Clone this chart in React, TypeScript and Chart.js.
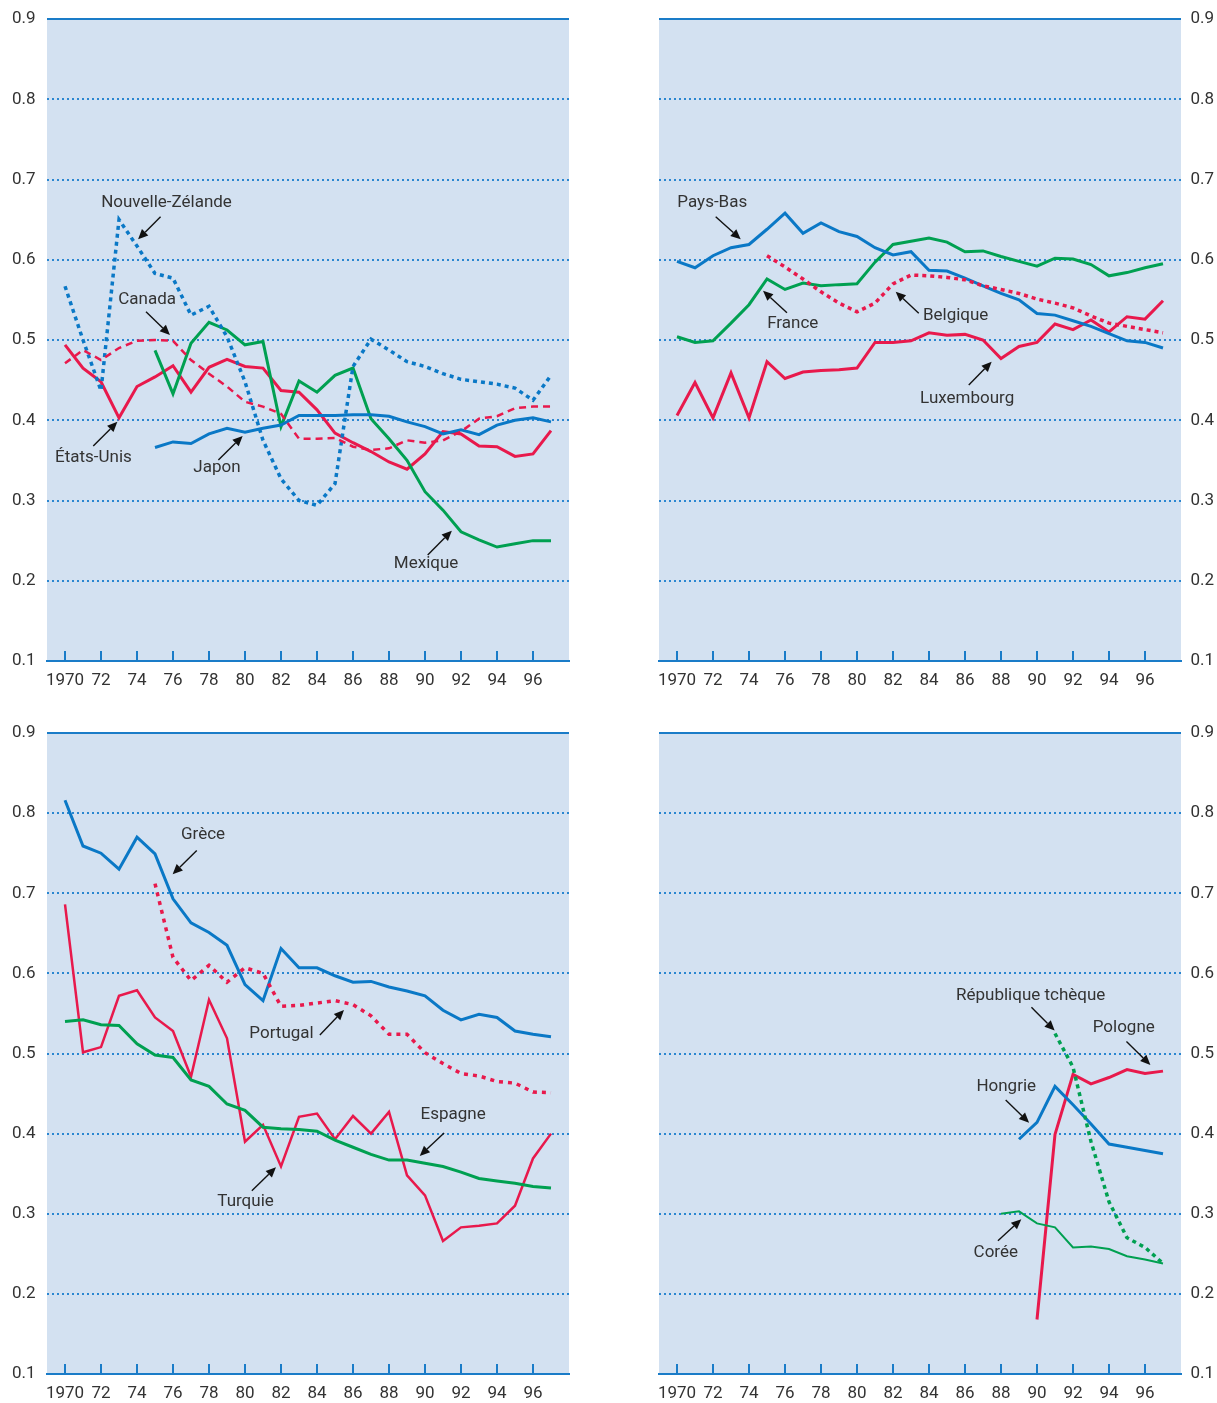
import React, { useEffect, useRef } from "react";
import { Chart, registerables } from "chart.js";

Chart.register(...registerables);
Chart.defaults.font.family = "Roboto, 'Open Sans', sans-serif";

// ---------- categories / ticks ----------
const xTickYears = [1970, 1972, 1974, 1976, 1978, 1980, 1982, 1984, 1986, 1988, 1990, 1992, 1994, 1996];
const yTickValues = [0.1, 0.2, 0.3, 0.4, 0.5, 0.6, 0.7, 0.8, 0.9];

const years1970 = [1970, 1971, 1972, 1973, 1974, 1975, 1976, 1977, 1978, 1979, 1980, 1981, 1982, 1983, 1984, 1985, 1986, 1987, 1988, 1989, 1990, 1991, 1992, 1993, 1994, 1995, 1996, 1997];
const years1975 = [1975, 1976, 1977, 1978, 1979, 1980, 1981, 1982, 1983, 1984, 1985, 1986, 1987, 1988, 1989, 1990, 1991, 1992, 1993, 1994, 1995, 1996, 1997];
const years1988 = [1988, 1989, 1990, 1991, 1992, 1993, 1994, 1995, 1996, 1997];
const years1989 = [1989, 1990, 1991, 1992, 1993, 1994, 1995, 1996, 1997];
const years1990 = [1990, 1991, 1992, 1993, 1994, 1995, 1996, 1997];
const years1991 = [1991, 1992, 1993, 1994, 1995, 1996, 1997];

// ---------- series values ----------
// Panel 1
const etatsUnis = [0.494, 0.465, 0.448, 0.403, 0.442, 0.454, 0.468, 0.435, 0.466, 0.476, 0.467, 0.465, 0.437, 0.435, 0.413, 0.384, 0.372, 0.361, 0.348, 0.339, 0.358, 0.386, 0.383, 0.368, 0.367, 0.355, 0.358, 0.387];
const canada = [0.471, 0.4875, 0.475, 0.49, 0.499, 0.5, 0.499, 0.475, 0.458, 0.442, 0.423, 0.417, 0.408, 0.377, 0.377, 0.378, 0.367, 0.363, 0.365, 0.375, 0.372, 0.375, 0.386, 0.402, 0.405, 0.415, 0.417, 0.417];
const nouvelleZelande = [0.567, 0.5, 0.437, 0.65, 0.617, 0.583, 0.577, 0.531, 0.542, 0.504, 0.448, 0.375, 0.327, 0.3, 0.294, 0.321, 0.467, 0.501, 0.4875, 0.473, 0.467, 0.458, 0.451, 0.448, 0.445, 0.44, 0.425, 0.456];
const japon = [0.366, 0.373, 0.371, 0.383, 0.39, 0.385, 0.39, 0.394, 0.406, 0.406, 0.406, 0.407, 0.407, 0.405, 0.398, 0.392, 0.383, 0.388, 0.382, 0.394, 0.4, 0.403, 0.398];
const mexique = [0.487, 0.433, 0.496, 0.522, 0.5125, 0.494, 0.498, 0.392, 0.449, 0.435, 0.456, 0.465, 0.402, 0.377, 0.35, 0.311, 0.288, 0.261, 0.251, 0.242, 0.246, 0.25, 0.25];
// Panel 2
const paysBas = [0.598, 0.59, 0.605, 0.615, 0.619, 0.638, 0.658, 0.633, 0.646, 0.635, 0.629, 0.615, 0.606, 0.61, 0.587, 0.586, 0.577, 0.5675, 0.558, 0.55, 0.533, 0.531, 0.524, 0.517, 0.508, 0.499, 0.497, 0.49];
const france = [0.504, 0.497, 0.499, 0.521, 0.544, 0.576, 0.563, 0.571, 0.5675, 0.569, 0.57, 0.597, 0.619, 0.623, 0.627, 0.622, 0.61, 0.611, 0.604, 0.598, 0.592, 0.602, 0.601, 0.594, 0.58, 0.584, 0.59, 0.595];
const belgique = [0.605, 0.591, 0.576, 0.56, 0.546, 0.535, 0.546, 0.57, 0.581, 0.58, 0.578, 0.575, 0.5675, 0.563, 0.558, 0.551, 0.546, 0.54, 0.53, 0.521, 0.517, 0.513, 0.509];
const luxembourg = [0.406, 0.447, 0.403, 0.459, 0.403, 0.473, 0.452, 0.46, 0.462, 0.463, 0.465, 0.497, 0.497, 0.499, 0.509, 0.506, 0.507, 0.5, 0.477, 0.492, 0.497, 0.52, 0.513, 0.525, 0.51, 0.529, 0.526, 0.549];
// Panel 3
const grece = [0.816, 0.759, 0.75, 0.73, 0.77, 0.749, 0.693, 0.663, 0.651, 0.635, 0.586, 0.566, 0.631, 0.607, 0.607, 0.597, 0.589, 0.59, 0.583, 0.578, 0.572, 0.554, 0.542, 0.549, 0.545, 0.528, 0.524, 0.521];
const portugal = [0.712, 0.62, 0.591, 0.61, 0.589, 0.607, 0.6, 0.559, 0.56, 0.563, 0.566, 0.561, 0.547, 0.524, 0.524, 0.501, 0.4875, 0.475, 0.472, 0.465, 0.463, 0.452, 0.451];
const turquie = [0.686, 0.5015, 0.508, 0.572, 0.579, 0.545, 0.528, 0.471, 0.567, 0.519, 0.39, 0.411, 0.359, 0.421, 0.425, 0.393, 0.422, 0.4, 0.427, 0.348, 0.323, 0.266, 0.283, 0.285, 0.288, 0.31, 0.369, 0.4];
const espagne = [0.54, 0.542, 0.536, 0.535, 0.512, 0.498, 0.495, 0.467, 0.459, 0.437, 0.429, 0.408, 0.406, 0.405, 0.403, 0.392, 0.383, 0.374, 0.367, 0.367, 0.363, 0.359, 0.352, 0.344, 0.341, 0.338, 0.334, 0.332];
// Panel 4
const hongrie = [0.393, 0.414, 0.459, 0.436, 0.412, 0.387, 0.383, 0.379, 0.375];
const pologne = [0.168, 0.399, 0.474, 0.462, 0.47, 0.48, 0.475, 0.478];
const republiqueTcheque = [0.525, 0.483, 0.39, 0.315, 0.27, 0.258, 0.238];
const coree = [0.3, 0.303, 0.288, 0.283, 0.258, 0.259, 0.256, 0.247, 0.243, 0.238];

// ---------- styles ----------
const BLUE = "#0a78c6";
const RED = "#e8194c";
const GREEN = "#00a051";
const BG = "#d3e1f1";
const AXIS = "#1a7cc8";
const GRID = "#2a86d0";
const TEXT = "#333333";

type Series = { label: string; years: number[]; values: number[]; color: string; width: number; dash?: number[] };
type Note = { text: string; at: [number, number]; from: [number, number]; to: [number, number] };

const panel1: Series[] = [
  { label: "Canada", years: years1970, values: canada, color: RED, width: 2.5, dash: [7, 5] },
  { label: "Nouvelle-Zélande", years: years1970, values: nouvelleZelande, color: BLUE, width: 3.5, dash: [4, 4] },
  { label: "Japon", years: years1975, values: japon, color: BLUE, width: 3 },
  { label: "Mexique", years: years1975, values: mexique, color: GREEN, width: 3 },
  { label: "États-Unis", years: years1970, values: etatsUnis, color: RED, width: 3 },
];
const notes1: Note[] = [
  { text: "Nouvelle-Zélande", at: [1975.64, 0.6707], from: [1975.31, 0.6536], to: [1974.06, 0.6255] },
  { text: "Canada", at: [1974.56, 0.5498], from: [1974.5, 0.5353], to: [1975.83, 0.5062] },
  { text: "États-Unis", at: [1971.58, 0.353], from: [1971.57, 0.368], to: [1972.91, 0.398] },
  { text: "Japon", at: [1978.44, 0.3405], from: [1978.52, 0.3505], to: [1979.87, 0.3804] },
  { text: "Mexique", at: [1990.06, 0.2209], from: [1990.15, 0.2321], to: [1991.49, 0.2624] },
];

const panel2: Series[] = [
  { label: "Belgique", years: years1975, values: belgique, color: RED, width: 3.5, dash: [4, 4] },
  { label: "Pays-Bas", years: years1970, values: paysBas, color: BLUE, width: 3 },
  { label: "France", years: years1970, values: france, color: GREEN, width: 3 },
  { label: "Luxembourg", years: years1970, values: luxembourg, color: RED, width: 3 },
];
const notes2: Note[] = [
  { text: "Pays-Bas", at: [1971.96, 0.6707], from: [1972.15, 0.6536], to: [1973.54, 0.6255] },
  { text: "France", at: [1976.43, 0.5199], from: [1976.11, 0.534], to: [1974.78, 0.5614] },
  { text: "Belgique", at: [1985.48, 0.5299], from: [1983.43, 0.5333], to: [1982.15, 0.5602] },
  { text: "Luxembourg", at: [1986.12, 0.4265], from: [1986.21, 0.4439], to: [1987.48, 0.473] },
];

const panel3: Series[] = [
  { label: "Portugal", years: years1975, values: portugal, color: RED, width: 3.5, dash: [4, 5] },
  { label: "Grèce", years: years1970, values: grece, color: BLUE, width: 3 },
  { label: "Espagne", years: years1970, values: espagne, color: GREEN, width: 3 },
  { label: "Turquie", years: years1970, values: turquie, color: RED, width: 2.5 },
];
const notes3: Note[] = [
  { text: "Grèce", at: [1977.67, 0.7729], from: [1977.32, 0.7533], to: [1975.98, 0.7238] },
  { text: "Portugal", at: [1982.03, 0.5245], from: [1984.16, 0.5232], to: [1985.5, 0.5544] },
  { text: "Espagne", at: [1991.56, 0.4233], from: [1991.06, 0.4009], to: [1989.71, 0.3722] },
  { text: "Turquie", at: [1980.03, 0.3147], from: [1980.38, 0.3288], to: [1981.72, 0.358] },
];

const panel4: Series[] = [
  { label: "République tchèque", years: years1991, values: republiqueTcheque, color: GREEN, width: 3.5, dash: [4, 4] },
  { label: "Corée", years: years1988, values: coree, color: GREEN, width: 2 },
  { label: "Hongrie", years: years1989, values: hongrie, color: BLUE, width: 3 },
  { label: "Pologne", years: years1990, values: pologne, color: RED, width: 3 },
];
const notes4: Note[] = [
  { text: "République tchèque", at: [1989.65, 0.5719], from: [1989.69, 0.5578], to: [1990.98, 0.5286] },
  { text: "Pologne", at: [1994.82, 0.532], from: [1994.97, 0.5149], to: [1996.3, 0.4858] },
  { text: "Hongrie", at: [1988.29, 0.4583], from: [1988.26, 0.4421], to: [1989.56, 0.4137] },
  { text: "Corée", at: [1987.71, 0.2511], from: [1987.83, 0.2664], to: [1989.13, 0.2931] },
];

type PanelProps = {
  side: "left" | "right";
  left: number; top: number; width: number; height: number;
  padding: { left: number; right: number; top: number; bottom: number };
  series: Series[];
  notes: Note[];
};

function Panel({ side, left, top, width, height, padding, series, notes }: PanelProps) {
  const ref = useRef<HTMLCanvasElement>(null);
  useEffect(() => {
    const decor = {
      id: "decor",
      beforeDraw(chart: any) {
        const { ctx, chartArea: a } = chart;
        ctx.save();
        ctx.fillStyle = BG;
        ctx.fillRect(a.left, a.top, a.right - a.left, a.bottom - a.top);
        ctx.restore();
      },
      beforeDatasetsDraw(chart: any) {
        const { ctx, chartArea: a, scales } = chart;
        const x = scales.x, y = scales.y;
        ctx.save();
        ctx.strokeStyle = AXIS;
        ctx.lineWidth = 2;
        const yt = y.getPixelForValue(yTickValues[yTickValues.length - 1]);
        ctx.beginPath();
        ctx.moveTo(a.left, yt);
        ctx.lineTo(a.right, yt);
        ctx.stroke();
        xTickYears.forEach((v) => {
          const px = Math.round(x.getPixelForValue(v));
          ctx.beginPath();
          ctx.moveTo(px, a.bottom);
          ctx.lineTo(px, a.bottom - 10);
          ctx.stroke();
        });
        ctx.restore();
      },
      afterDatasetsDraw(chart: any) {
        const { ctx, scales } = chart;
        const x = scales.x, y = scales.y;
        ctx.save();
        ctx.font = "17px Roboto, 'Open Sans', sans-serif";
        ctx.textAlign = "center";
        ctx.textBaseline = "middle";
        notes.forEach((n) => {
          ctx.fillStyle = TEXT;
          ctx.fillText(n.text, x.getPixelForValue(n.at[0]), y.getPixelForValue(n.at[1]));
          const x1 = x.getPixelForValue(n.from[0]), y1 = y.getPixelForValue(n.from[1]);
          const x2 = x.getPixelForValue(n.to[0]), y2 = y.getPixelForValue(n.to[1]);
          const ang = Math.atan2(y2 - y1, x2 - x1);
          const hl = 10, hw = 4.5;
          const bx = x2 - hl * Math.cos(ang), by = y2 - hl * Math.sin(ang);
          ctx.strokeStyle = "#111";
          ctx.fillStyle = "#111";
          ctx.lineWidth = 1.4;
          ctx.beginPath();
          ctx.moveTo(x1, y1);
          ctx.lineTo(bx, by);
          ctx.stroke();
          ctx.beginPath();
          ctx.moveTo(x2, y2);
          ctx.lineTo(bx + hw * Math.sin(ang), by - hw * Math.cos(ang));
          ctx.lineTo(bx - hw * Math.sin(ang), by + hw * Math.cos(ang));
          ctx.closePath();
          ctx.fill();
        });
        ctx.restore();
      },
    };

    const chart = new Chart(ref.current as HTMLCanvasElement, {
      type: "line",
      data: {
        datasets: series.map((s) => ({
          label: s.label,
          data: s.years.map((yr, i) => ({ x: yr, y: s.values[i] })),
          borderColor: s.color,
          backgroundColor: s.color,
          borderWidth: s.width,
          borderDash: s.dash || [],
          borderCapStyle: "butt",
          borderJoinStyle: "miter",
          pointRadius: 0,
          pointHoverRadius: 0,
          fill: false,
          tension: 0,
        })),
      },
      options: {
        responsive: false,
        animation: false,
        devicePixelRatio: 1,
        events: [],
        layout: { padding },
        plugins: { legend: { display: false }, tooltip: { enabled: false } },
        scales: {
          x: {
            type: "linear",
            min: 1969,
            max: 1998,
            afterBuildTicks: (s: any) => {
              s.ticks = xTickYears.map((v) => ({ value: v }));
            },
            afterFit: (s: any) => {
              s.height = 29;
            },
            grid: { display: false, drawTicks: false },
            border: { display: true, color: AXIS, width: 2 },
            ticks: {
              autoSkip: false,
              maxRotation: 0,
              padding: 10,
              color: TEXT,
              font: { size: 17 },
              callback: (v: any) => (v === 1970 ? "1970" : String(v).slice(2)),
            },
          },
          y: {
            position: side,
            min: 0.1,
            max: 0.9,
            afterBuildTicks: (s: any) => {
              s.ticks = yTickValues.map((v) => ({ value: v }));
            },
            afterFit: (s: any) => {
              s.width = side === "left" ? 35 : 33;
            },
            grid: {
              drawTicks: false,
              lineWidth: 2,
              color: (c: any) => {
                const v = c.tick ? c.tick.value : 0;
                return Math.abs(v - 0.1) < 1e-6 || Math.abs(v - 0.9) < 1e-6 ? "rgba(0,0,0,0)" : GRID;
              },
            },
            border: { display: false, dash: [2, 3] },
            ticks: {
              padding: 0,
              crossAlign: "far",
              color: TEXT,
              font: { size: 17 },
              callback: (v: any) => Number(v).toFixed(1),
            },
          },
        },
      },
      plugins: [decor],
    } as any);
    return () => chart.destroy();
  }, []);
  return (
    <canvas
      ref={ref}
      width={width}
      height={height}
      style={{ position: "absolute", left, top, width, height }}
    />
  );
}

export default function App() {
  return (
    <div style={{ position: "absolute", left: 0, top: 0, width: 1217, height: 1403, overflow: "hidden", background: "#fff" }}>
      <Panel side="left" left={0} top={0} width={600} height={710} padding={{ left: 12, right: 31, top: 19, bottom: 20 }} series={panel1} notes={notes1} />
      <Panel side="right" left={630} top={0} width={587} height={710} padding={{ left: 29, right: 3, top: 19, bottom: 20 }} series={panel2} notes={notes2} />
      <Panel side="left" left={0} top={714} width={600} height={689} padding={{ left: 12, right: 31, top: 19, bottom: 0 }} series={panel3} notes={notes3} />
      <Panel side="right" left={630} top={714} width={587} height={689} padding={{ left: 29, right: 3, top: 19, bottom: 0 }} series={panel4} notes={notes4} />
    </div>
  );
}
